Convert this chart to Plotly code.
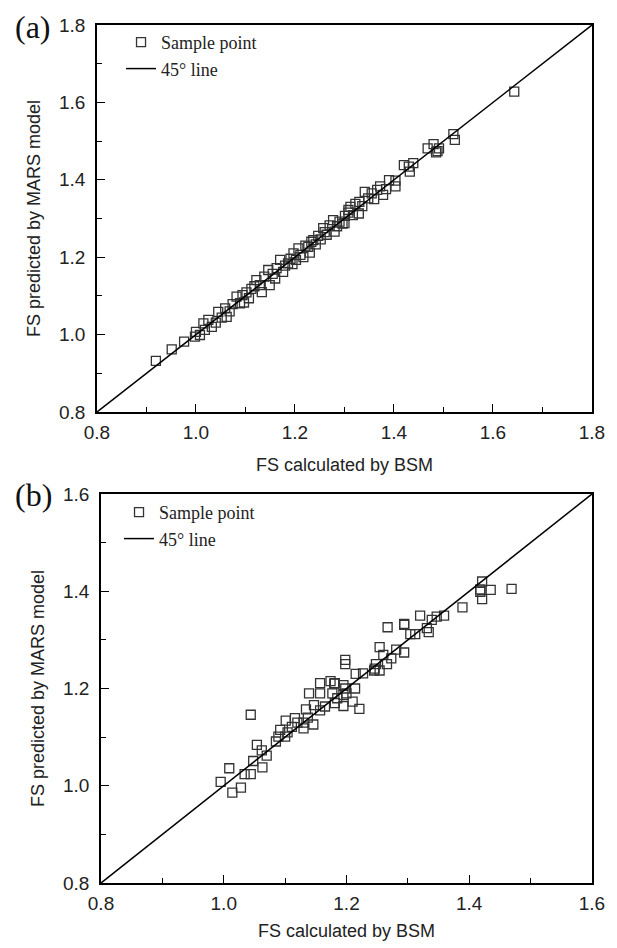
import plotly.graph_objects as go

# panel (a) - training set
bsm_a = [0.919, 0.951, 0.976, 0.998, 1.000, 1.008, 1.018, 1.015, 1.032, 1.025,
         1.040, 1.045, 1.052, 1.062, 1.059, 1.068, 1.074, 1.082, 1.089, 1.097,
         1.094, 1.102, 1.107, 1.112, 1.122, 1.118, 1.129, 1.133, 1.138, 1.146,
         1.149, 1.155, 1.160, 1.163, 1.170, 1.176, 1.180, 1.186, 1.191, 1.197,
         1.195, 1.202, 1.207, 1.211, 1.217, 1.221, 1.227, 1.230, 1.233, 1.237,
         1.242, 1.247, 1.252, 1.257, 1.260, 1.264, 1.270, 1.277, 1.280, 1.285,
         1.290, 1.296, 1.300, 1.301, 1.308, 1.308, 1.312, 1.317, 1.322, 1.329,
         1.330, 1.336, 1.341, 1.348, 1.355, 1.360, 1.366, 1.372, 1.378, 1.384,
         1.390, 1.403, 1.403, 1.420, 1.430, 1.432, 1.439, 1.468, 1.480, 1.491,
         1.485, 1.488, 1.520, 1.523, 1.643]
mars_a = [0.932, 0.962, 0.982, 0.995, 1.007, 0.999, 1.012, 1.029, 1.020, 1.038,
          1.031, 1.059, 1.044, 1.046, 1.068, 1.060, 1.079, 1.098, 1.081, 1.083,
          1.102, 1.109, 1.094, 1.118, 1.141, 1.125, 1.128, 1.110, 1.150, 1.167,
          1.128, 1.157, 1.145, 1.172, 1.193, 1.162, 1.178, 1.184, 1.196, 1.210,
          1.182, 1.193, 1.223, 1.206, 1.200, 1.230, 1.227, 1.212, 1.240, 1.244,
          1.233, 1.255, 1.246, 1.275, 1.265, 1.258, 1.282, 1.296, 1.266, 1.280,
          1.292, 1.287, 1.288, 1.307, 1.322, 1.315, 1.330, 1.309, 1.338, 1.313,
          1.343, 1.332, 1.369, 1.352, 1.365, 1.350, 1.374, 1.383, 1.361, 1.376,
          1.399, 1.398, 1.383, 1.438, 1.434, 1.421, 1.443, 1.481, 1.492, 1.481,
          1.471, 1.474, 1.518, 1.503, 1.628]

# panel (b) - testing set
bsm_b = [0.995, 1.009, 1.014, 1.028, 1.034, 1.044, 1.044, 1.048, 1.054, 1.062,
         1.063, 1.070, 1.085, 1.089, 1.092, 1.100, 1.101, 1.104, 1.111, 1.116,
         1.120, 1.130, 1.130, 1.134, 1.137, 1.139, 1.146, 1.147, 1.157, 1.157,
         1.157, 1.165, 1.174, 1.177, 1.180, 1.181, 1.185, 1.195, 1.198, 1.198,
         1.198, 1.200, 1.181, 1.195, 1.214, 1.195, 1.210, 1.221, 1.215, 1.227,
         1.246, 1.245, 1.254, 1.248, 1.254, 1.260, 1.266, 1.273, 1.281, 1.294,
         1.267, 1.294, 1.294, 1.304, 1.312, 1.320, 1.331, 1.334, 1.339, 1.347,
         1.359, 1.389, 1.418, 1.421, 1.421, 1.418, 1.435, 1.469]
mars_b = [1.008, 1.036, 0.986, 0.996, 1.024, 1.024, 1.146, 1.051, 1.084, 1.073,
          1.038, 1.062, 1.091, 1.101, 1.115, 1.101, 1.134, 1.110, 1.121, 1.139,
          1.130, 1.118, 1.130, 1.157, 1.140, 1.190, 1.126, 1.166, 1.211, 1.190,
          1.155, 1.163, 1.215, 1.190, 1.210, 1.170, 1.180, 1.164, 1.259, 1.250,
          1.200, 1.190, 1.211, 1.207, 1.200, 1.187, 1.173, 1.158, 1.230, 1.231,
          1.241, 1.237, 1.237, 1.250, 1.285, 1.269, 1.250, 1.262, 1.280, 1.274,
          1.326, 1.331, 1.333, 1.312, 1.312, 1.350, 1.324, 1.316, 1.341, 1.348,
          1.350, 1.367, 1.399, 1.420, 1.384, 1.404, 1.403, 1.405]

line_a = [0.8, 1.8]
line_b = [0.8, 1.6]

sans = "Liberation Sans, Arial, sans-serif"
serif = "Liberation Serif, Times New Roman, serif"
marker = dict(symbol="square-open", size=9, color="#333", line=dict(width=1.3))

fig = go.Figure()
fig.add_trace(go.Scatter(x=bsm_a, y=mars_a, mode="markers", marker=marker,
                         name="Sample point", legend="legend", legendgroup="a1",
                         xaxis="x", yaxis="y"))
fig.add_trace(go.Scatter(x=line_a, y=line_a, mode="lines", line=dict(color="black", width=1.5),
                         name="45\u00b0 line", legend="legend", legendgroup="a2",
                         xaxis="x", yaxis="y"))
fig.add_trace(go.Scatter(x=bsm_b, y=mars_b, mode="markers", marker=marker,
                         name="Sample point", legend="legend2", legendgroup="b1",
                         xaxis="x2", yaxis="y2"))
fig.add_trace(go.Scatter(x=line_b, y=line_b, mode="lines", line=dict(color="black", width=1.5),
                         name="45\u00b0 line", legend="legend2", legendgroup="b2",
                         xaxis="x2", yaxis="y2"))


def ax(rng, dom, anchor, title, standoff, label_gap):
    return dict(range=rng, domain=dom, anchor=anchor, dtick=0.2, tickformat=".1f",
                showline=True, linecolor="black", linewidth=1.5, mirror=True,
                ticks="inside", ticklen=8, tickwidth=1.3, tickcolor="black",
                minor=dict(dtick=0.1, ticks="inside", ticklen=5, tickwidth=1.3, tickcolor="black"),
                showgrid=False, zeroline=False, ticklabelstandoff=label_gap, automargin=False,
                tickfont=dict(family=sans, size=19, color="#222"),
                title=dict(text=title, standoff=standoff,
                           font=dict(family=sans, size=18, color="#222")))


leg = dict(font=dict(family=serif, size=18, color="#222"), bgcolor="rgba(0,0,0,0)",
           borderwidth=0, tracegroupgap=0, xanchor="left", yanchor="top")

# page body adds an 8px offset, so the figure is 609x940 placed at (8, 8)
fig.update_layout(
    width=609, height=940, plot_bgcolor="white", paper_bgcolor="white",
    margin=dict(l=0, r=0, t=0, b=0),
    xaxis=ax([0.8, 1.8], [0.1461, 0.9589], "y", "FS calculated by BSM", 17, 2),
    yaxis=ax([0.8, 1.8], [0.5702, 0.9819], "x", "FS predicted by MARS model", 14, 6),
    xaxis2=ax([0.8, 1.6], [0.1527, 0.9589], "y2", "FS calculated by BSM", 12, 2),
    yaxis2=ax([0.8, 1.6], [0.0691, 0.4830], "x2", "FS predicted by MARS model", 14, 6),
    legend=dict(leg, x=0.1856, y=0.983),
    legend2=dict(leg, x=0.1823, y=0.483),
    showlegend=True,
)

fig.add_annotation(text="(a)", x=0.008, y=0.980, xref="paper", yref="paper",
                   xanchor="left", yanchor="middle", showarrow=False,
                   font=dict(family=serif, size=32, color="#111"))
fig.add_annotation(text="(b)", x=0.008, y=0.482, xref="paper", yref="paper",
                   xanchor="left", yanchor="middle", showarrow=False,
                   font=dict(family=serif, size=32, color="#111"))

fig.write_html("out.html")
